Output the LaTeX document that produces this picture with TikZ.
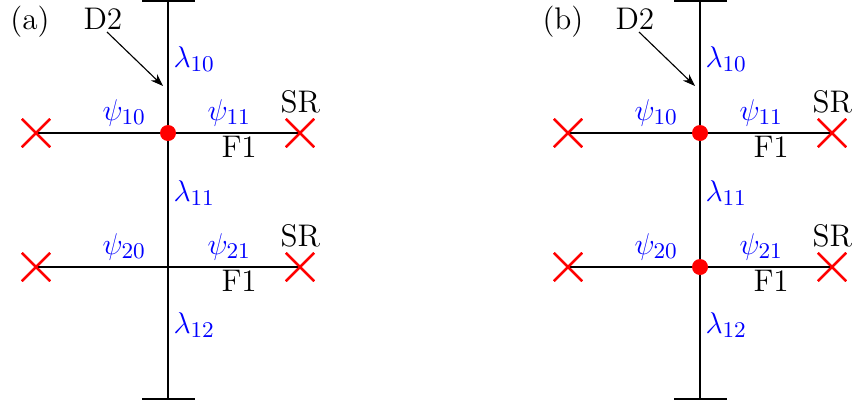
\documentclass[tikz,border=0pt]{standalone}
\usetikzlibrary{shapes.misc,arrows.meta}
\begin{document}
\begin{tikzpicture}[x=0.4pt,y=-0.4pt,
  wire/.style={line width=1pt,black},
  xmark/.style={cross out,draw=red,line width=0.9pt,minimum size=10.4pt,inner sep=0pt},
  vdot/.style={circle,fill=red,minimum size=6.4pt,inner sep=0pt},
  lab/.style={anchor=base west,inner sep=0pt,font=\fontsize{12.5}{15}\selectfont},
  blab/.style={lab,text=blue},
  tag/.style={anchor=base west,inner sep=0pt,font=\fontsize{12.5}{15}\selectfont},
  ptr/.style={line width=0.45pt,-{Stealth[length=5pt,width=3.6pt]}}]
\useasboundingbox (0,0) rectangle (853,407);
\foreach \p/\dx/\nm/\dotb in {a/0/a/0,b/532/b/1}{
  \begin{scope}[xshift=\dx*0.4pt]
  \coordinate (top\p) at (168,1);
  \coordinate (bot\p) at (168,399);
  \coordinate (tl\p) at (142,1); \coordinate (tr\p) at (195,1);
  \coordinate (bl\p) at (142,399); \coordinate (br\p) at (195,399);
  \coordinate (m1\p) at (168,133);
  \coordinate (m2\p) at (168,267);
  \coordinate (aS\p) at (107,32);
  \coordinate (aE\p) at (163,86);
  \draw[wire] (top\p) -- (bot\p);
  \draw[wire] (tl\p) -- (tr\p);
  \draw[wire] (bl\p) -- (br\p);
  \node[xmark] (xl1\p) at (36,133) {};
  \node[xmark] (xr1\p) at (300,133) {};
  \node[xmark] (xl2\p) at (36,267) {};
  \node[xmark] (xr2\p) at (300,267) {};
  \draw[wire] (xl1\p.center) -- (xr1\p.center);
  \draw[wire] (xl2\p.center) -- (xr2\p.center);
  \node[xmark] at (xl1\p) {};
  \node[xmark] at (xr1\p) {};
  \node[xmark] at (xl2\p) {};
  \node[xmark] at (xr2\p) {};
  \node[vdot] (d1\p) at (m1\p) {};
  \ifnum\dotb=1 \node[vdot] (d2\p) at (m2\p) {}; \fi
  \node[tag] (lbl\p) at (10,29) {(\nm)};
  \node[tag] (D\p) at (83,29) {D2};
  \draw[ptr] (aS\p) -- (aE\p);
  \node[blab] (l10\p) at (173,67) {$\lambda_{10}$};
  \node[blab] (l11\p) at (173,201) {$\lambda_{11}$};
  \node[blab] (l12\p) at (173,333) {$\lambda_{12}$};
  \node[blab] (p10\p) at (102,120) {$\psi_{10}$};
  \node[blab] (p11\p) at (207,120) {$\psi_{11}$};
  \node[blab] (p20\p) at (102,254) {$\psi_{20}$};
  \node[blab] (p21\p) at (207,254) {$\psi_{21}$};
  \node[lab] (sr1\p) at (280,112) {SR};
  \node[lab] (sr2\p) at (280,246) {SR};
  \node[lab] (f1\p) at (221,157) {F1};
  \node[lab] (f2\p) at (221,291) {F1};
  \end{scope}
}
\end{tikzpicture}
\end{document}
